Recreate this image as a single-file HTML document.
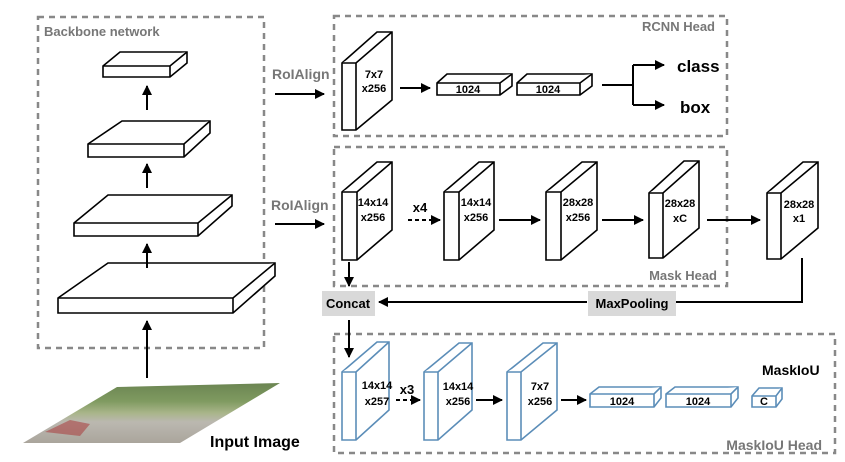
<!DOCTYPE html>
<html><head><meta charset="utf-8"><style>
html,body{margin:0;padding:0;background:#fff;}
svg{display:block;font-family:"Liberation Sans",sans-serif;font-weight:bold;}
</style></head><body>
<svg width="845" height="462" viewBox="0 0 845 462" xmlns="http://www.w3.org/2000/svg">
<defs>
<marker id="ah" viewBox="0 0 10 10" refX="9" refY="5" markerWidth="5" markerHeight="5" orient="auto"><path d="M0,0 L10,5 L0,10 z" fill="#000"/></marker>
<linearGradient id="img" x1="0" y1="0" x2="0" y2="1">
<stop offset="0" stop-color="#6b8552"/><stop offset="0.3" stop-color="#7f9a60"/><stop offset="0.5" stop-color="#a9b58a"/><stop offset="0.65" stop-color="#bbb8b0"/><stop offset="1" stop-color="#aaa59c"/></linearGradient>
</defs>
<g fill="none" stroke="#888" stroke-width="2.5" stroke-dasharray="6,5">
<rect x="38" y="17" width="226" height="331"/>
<rect x="334" y="16" width="393" height="120"/>
<rect x="334" y="147" width="393" height="139"/>
<rect x="334" y="334" width="501" height="119"/>
</g>
<g fill="#777" font-size="13">
<text x="44" y="36">Backbone network</text>
<text x="715" y="31" text-anchor="end">RCNN Head</text>
<text x="717" y="280" text-anchor="end">Mask Head</text>
<text x="822" y="450" text-anchor="end" font-size="14">MaskIoU Head</text>
<text x="272" y="79" font-size="14">RoIAlign</text>
<text x="271" y="210" font-size="14">RoIAlign</text>
</g>
<g fill="#fff" stroke="#000" stroke-width="1.6">
<path d="M103,66 L120,52 L187,52 L187,63 L170,77 L103,77 Z"/><path d="M103,66 L170,66 L187,52 M170,66 L170,77"/>
<path d="M88,144 L122,121 L210,121 L210,133 L184,157 L88,157 Z"/><path d="M88,144 L184,144 L210,121 M184,144 L184,157"/>
<path d="M74,223 L108,195 L232,195 L232,206 L198,236 L74,236 Z"/><path d="M74,223 L198,223 L232,195 M198,223 L198,236"/>
<path d="M58,298 L108,263 L275,263 L275,276 L233,313 L58,313 Z"/><path d="M58,298 L233,298 L275,263 M233,298 L233,313"/>
</g>
<polygon points="23,443 117,387 280,383 180,443" fill="url(#img)"/>
<polygon points="45,432 70,420 90,424 80,436" fill="#a44" opacity="0.6"/>
<text x="210" y="447" font-size="16" fill="#000">Input Image</text>
<g stroke="#000" stroke-width="2" marker-end="url(#ah)">
<line x1="147" y1="110" x2="147" y2="86"/>
<line x1="147" y1="188" x2="147" y2="164"/>
<line x1="147" y1="268" x2="147" y2="244"/>
<line x1="147" y1="378" x2="147" y2="321"/>
<line x1="275" y1="94" x2="324" y2="94"/>
<line x1="275" y1="224" x2="324" y2="224"/>
<line x1="400" y1="88" x2="430" y2="88"/>
<line x1="633" y1="65" x2="664" y2="65"/>
<line x1="633" y1="105" x2="664" y2="105"/>
<line x1="408" y1="220" x2="440" y2="220" stroke-dasharray="4,3"/>
<line x1="499" y1="220" x2="540" y2="220"/>
<line x1="602" y1="220" x2="643" y2="220"/>
<line x1="707" y1="220" x2="760" y2="220"/>
<line x1="587" y1="302" x2="379" y2="302"/>
<line x1="349" y1="262" x2="349" y2="286"/>
<line x1="349" y1="320" x2="349" y2="357"/>
<line x1="396" y1="400" x2="420" y2="400" stroke-dasharray="4,3"/>
<line x1="476" y1="400" x2="502" y2="400"/>
<line x1="561" y1="400" x2="586" y2="400"/>
</g>
<g stroke="#000" stroke-width="2" fill="none">
<polyline points="602,85 633,85"/>
<polyline points="633,65 633,105"/>
<polyline points="802,258 802,302 676,302"/>
</g>
<g fill="#fff" stroke="#000" stroke-width="1.6">
<path d="M342,63 L377,32 L392,32 L392,100 L356,130 L342,130 Z"/><path d="M342,63 L356,63 L392,32 M356,63 L356,130"/>
<path d="M342,192 L377,162 L392,162 L392,230 L357,260 L342,260 Z"/><path d="M342,192 L357,192 L392,162 M357,192 L357,260"/>
<path d="M444,192 L479,162 L494,162 L494,230 L459,260 L444,260 Z"/><path d="M444,192 L459,192 L494,162 M459,192 L459,260"/>
<path d="M546,192 L582,162 L597,162 L597,230 L561,260 L546,260 Z"/><path d="M546,192 L561,192 L597,162 M561,192 L561,260"/>
<path d="M649,193 L684,161 L699,161 L699,228 L663,258 L649,258 Z"/><path d="M649,193 L663,193 L699,161 M663,193 L663,258"/>
<path d="M767,193 L803,162 L818,162 L818,228 L781,259 L767,259 Z"/><path d="M767,193 L781,193 L818,162 M781,193 L781,259"/>
<path d="M437,83 L447,74 L512,74 L512,86 L500,95 L437,95 Z"/><path d="M437,83 L500,83 L512,74 M500,83 L500,95"/>
<path d="M517,83 L527,74 L592,74 L592,86 L580,95 L517,95 Z"/><path d="M517,83 L580,83 L592,74 M580,83 L580,95"/>
</g>
<g fill="#fff" stroke="#5b8db8" stroke-width="1.6">
<path d="M342,372 L377,342 L389,342 L389,410 L356,440 L342,440 Z"/><path d="M342,372 L356,372 L389,342 M356,372 L356,440"/>
<path d="M424,372 L459,343 L472,343 L472,410 L438,440 L424,440 Z"/><path d="M424,372 L438,372 L472,343 M438,372 L438,440"/>
<path d="M507,372 L543,343 L557,343 L557,410 L521,440 L507,440 Z"/><path d="M507,372 L521,372 L557,343 M521,372 L521,440"/>
<path d="M590,394 L599,387 L661,387 L661,398 L654,407 L590,407 Z"/><path d="M590,394 L654,394 L661,387 M654,394 L654,407"/>
<path d="M666,394 L675,387 L738,387 L738,398 L731,407 L666,407 Z"/><path d="M666,394 L731,394 L738,387 M731,394 L731,407"/>
<path d="M752,396 L759,388 L782,388 L782,399 L776,407 L752,407 Z"/><path d="M752,396 L776,396 L782,388 M776,396 L776,407"/>
</g>
<g fill="#000" font-size="11" text-anchor="middle">
<text x="374" y="78">7x7</text><text x="374" y="92">x256</text>
<text x="373" y="206">14x14</text><text x="373" y="221">x256</text>
<text x="476" y="206">14x14</text><text x="476" y="221">x256</text>
<text x="578" y="206">28x28</text><text x="578" y="221">x256</text>
<text x="680" y="207">28x28</text><text x="680" y="222">xC</text>
<text x="799" y="208">28x28</text><text x="799" y="222">x1</text>
<text x="468" y="93">1024</text><text x="548" y="93">1024</text>
<text x="377" y="389">14x14</text><text x="377" y="405">x257</text>
<text x="458" y="390">14x14</text><text x="458" y="405">x256</text>
<text x="540" y="390">7x7</text><text x="540" y="405">x256</text>
<text x="622" y="405">1024</text><text x="698" y="405">1024</text>
<text x="764" y="405">C</text>
<text x="420" y="212" font-size="13">x4</text>
<text x="407" y="394" font-size="13">x3</text>
</g>
<g fill="#000" font-size="17">
<text x="677" y="72">class</text>
<text x="680" y="113">box</text>
<text x="762" y="375" font-size="14">MaskIoU</text>
</g>
<rect x="322" y="291" width="53" height="25" fill="#d9d9d9"/>
<rect x="588" y="291" width="88" height="25" fill="#d9d9d9"/>
<text x="348" y="308" font-size="13" text-anchor="middle" fill="#000">Concat</text>
<text x="632" y="308" font-size="13" text-anchor="middle" fill="#000">MaxPooling</text>
</svg>
</body></html>
